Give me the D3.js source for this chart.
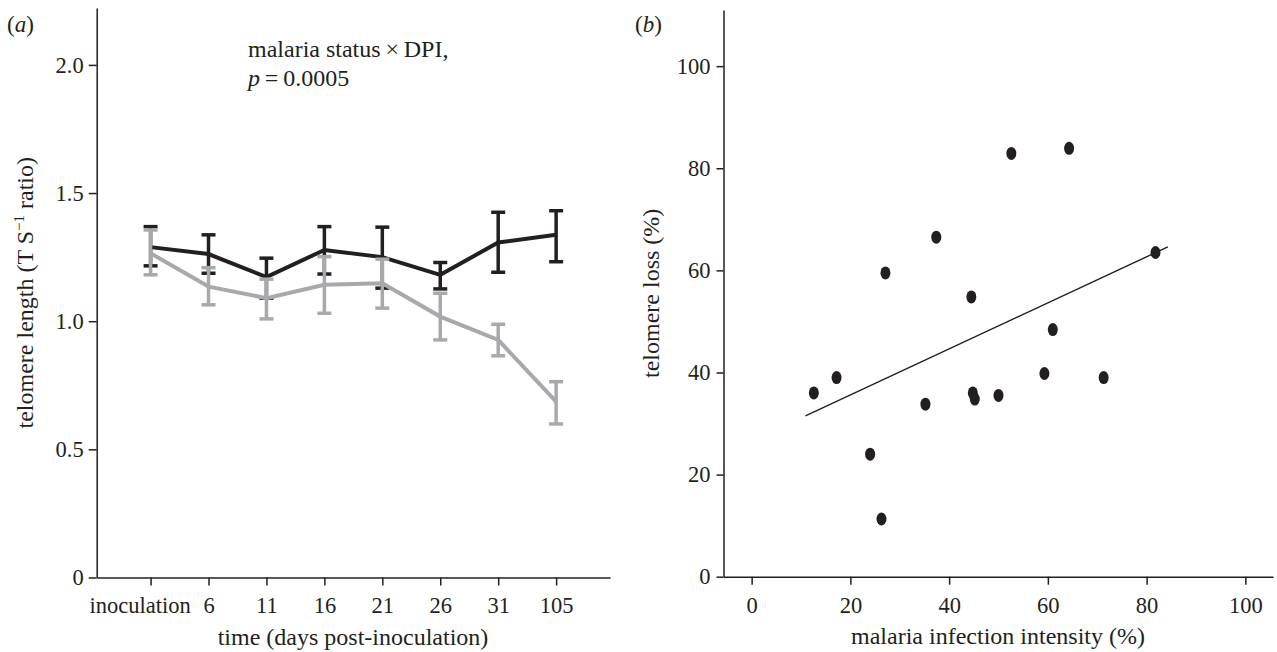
<!DOCTYPE html>
<html>
<head>
<meta charset="utf-8">
<script src="https://cdn.jsdelivr.net/npm/d3@7"></script>
<style>
  html, body { margin: 0; padding: 0; background: #fff; }
  svg { display: block; }
  svg text { font-family: "Liberation Serif", "Times New Roman", Times, "DejaVu Serif", serif; fill: #231f20; }
</style>
</head>
<body>
<svg id="chart" width="1277" height="652"></svg>
<script>
// ---- Data: panel (a) ----
const timeLabels = ["inoculation", "6", "11", "16", "21", "26", "31", "105"];
const controlMean  = [1.289, 1.262, 1.172, 1.278, 1.250, 1.181, 1.307, 1.337];
const controlUpper = [1.369, 1.337, 1.246, 1.369, 1.367, 1.229, 1.425, 1.431];
const controlLower = [1.216, 1.187, 1.090, 1.184, 1.129, 1.126, 1.191, 1.232];
const infectedMean  = [1.265, 1.135, 1.090, 1.142, 1.148, 1.018, 0.927, 0.686];
const infectedUpper = [1.356, 1.209, 1.164, 1.252, 1.242, 1.109, 0.988, 0.764];
const infectedLower = [1.181, 1.064, 1.009, 1.031, 1.051, 0.927, 0.865, 0.599];
const yTicksA = [0, 0.5, 1.0, 1.5, 2.0];

// ---- Data: panel (b) ----
const infectionIntensity = [52.6, 64.3, 37.4, 81.8, 27.1, 44.5, 61.0, 12.6, 17.2, 24.0, 26.3, 35.2, 44.8, 45.2, 50.0, 59.3, 71.3];
const telomereLoss       = [82.9, 83.9, 66.5, 63.5, 59.5, 54.8, 48.4, 36.0, 39.0, 24.0, 11.3, 33.8, 36.0, 34.8, 35.5, 39.8, 39.0];
const fitX = [10.9, 84.3];
const fitY = [31.5, 64.6];
const ticksB = [0, 20, 40, 60, 80, 100];

const INK = "#231f20";
const GREY = "#a7a9ac";
const FONT = '"Liberation Serif", "Times New Roman", Times, "DejaVu Serif", serif';
const TICK = 22.5, TITLE = 24;
const svg = d3.select("#chart");

function styleAxis(g) {
  g.selectAll("path.domain").attr("stroke", INK).attr("stroke-width", 1.5);
  g.selectAll(".tick line").attr("stroke", INK).attr("stroke-width", 1.5);
  g.selectAll(".tick text").attr("fill", INK)
    .attr("font-family", FONT).attr("font-size", TICK)
    .style("font-family", FONT).style("font-size", TICK + "px");
}
function txt(g, size) {
  return g.append("text").attr("font-family", FONT).style("font-family", FONT)
    .attr("font-size", size).style("font-size", size + "px").attr("fill", INK);
}

// ================= Panel (a) =================
const xA = d3.scalePoint().domain(timeLabels).range([96.7, 610]).padding(0.93);
const yA = d3.scaleLinear().domain([0, 2.222]).range([577.5, 8]);

const gA = svg.append("g");
const axXA = gA.append("g").attr("transform", `translate(0,${yA(0)})`)
  .call(d3.axisBottom(xA).tickSize(8).tickSizeOuter(0).tickPadding(12));
styleAxis(axXA);
axXA.selectAll(".tick text").attr("dx", (d, i) => i === 0 ? -11 : 0);

const axYA = gA.append("g").attr("transform", `translate(${xA.range()[0]},0)`)
  .call(d3.axisLeft(yA).tickValues(yTicksA).tickSize(8).tickSizeOuter(0).tickPadding(5)
    .tickFormat(d => d === 0 ? "0" : d3.format(".1f")(d)));
styleAxis(axYA);

function drawSeries(mean, upper, lower, color) {
  const pts = timeLabels.map((t, i) => ({ t, m: mean[i], u: upper[i], l: lower[i] }));
  gA.append("path").datum(pts)
    .attr("fill", "none").attr("stroke", color).attr("stroke-width", 4)
    .attr("stroke-linejoin", "miter")
    .attr("d", d3.line().x(d => xA(d.t)).y(d => yA(d.m)));
  const eb = gA.append("g").selectAll("g").data(pts).join("g");
  eb.append("line")
    .attr("x1", d => xA(d.t)).attr("x2", d => xA(d.t))
    .attr("y1", d => yA(d.u)).attr("y2", d => yA(d.l))
    .attr("stroke", color).attr("stroke-width", 3.5);
  eb.append("line")
    .attr("x1", d => xA(d.t) - 7).attr("x2", d => xA(d.t) + 7)
    .attr("y1", d => yA(d.u)).attr("y2", d => yA(d.u))
    .attr("stroke", color).attr("stroke-width", 3.5);
  eb.append("line")
    .attr("x1", d => xA(d.t) - 7).attr("x2", d => xA(d.t) + 7)
    .attr("y1", d => yA(d.l)).attr("y2", d => yA(d.l))
    .attr("stroke", color).attr("stroke-width", 3.5);
}
drawSeries(controlMean, controlUpper, controlLower, INK);
drawSeries(infectedMean, infectedUpper, infectedLower, GREY);

// labels (a)
const lblA = txt(gA, 23).attr("x", 7).attr("y", 32);
lblA.append("tspan").text("(");
lblA.append("tspan").attr("font-style", "italic").text("a");
lblA.append("tspan").text(")");

txt(gA, TITLE).attr("x", 248).attr("y", 57).text("malaria status\u2009\u00d7\u2009DPI,");
const pTxt = txt(gA, TITLE).attr("x", 248).attr("y", 86);
pTxt.append("tspan").attr("font-style", "italic").text("p");
pTxt.append("tspan").text("\u2009=\u20090.0005");

txt(gA, TITLE).attr("x", 353).attr("y", 645).attr("text-anchor", "middle")
  .text("time (days post-inoculation)");

const yTitleA = txt(gA, TITLE)
  .attr("transform", `translate(33,${(yA.range()[0] + yA.range()[1]) / 2}) rotate(-90)`)
  .attr("text-anchor", "middle");
yTitleA.append("tspan").text("telomere length (T S");
yTitleA.append("tspan").attr("dy", -9).attr("font-size", 15).style("font-size", "15px").text("\u22121");
yTitleA.append("tspan").attr("dy", 9).text(" ratio)");

// ================= Panel (b) =================
const xB = d3.scaleLinear().domain([-5.7, 105.6]).range([723.5, 1273]);
const yB = d3.scaleLinear().domain([0, 111]).range([576.7, 10]);
const gB = svg.append("g");

const axXB = gB.append("g").attr("transform", `translate(0,${yB(0)})`)
  .call(d3.axisBottom(xB).tickValues(ticksB).tickSize(8).tickSizeOuter(0).tickPadding(12)
    .tickFormat(d3.format("d")));
styleAxis(axXB);
const axYB = gB.append("g").attr("transform", `translate(${xB.range()[0]},0)`)
  .call(d3.axisLeft(yB).tickValues(ticksB).tickSize(7).tickSizeOuter(0).tickPadding(6)
    .tickFormat(d3.format("d")));
styleAxis(axYB);

gB.append("line")
  .attr("x1", xB(fitX[0])).attr("y1", yB(fitY[0]))
  .attr("x2", xB(fitX[1])).attr("y2", yB(fitY[1]))
  .attr("stroke", INK).attr("stroke-width", 1.4);

gB.append("g").selectAll("ellipse")
  .data(infectionIntensity.map((x, i) => ({ x, y: telomereLoss[i] })))
  .join("ellipse")
  .attr("cx", d => xB(d.x)).attr("cy", d => yB(d.y))
  .attr("rx", 5).attr("ry", 6.5).attr("fill", INK);

const lblB = txt(gB, 23).attr("x", 635).attr("y", 32);
lblB.append("tspan").text("(");
lblB.append("tspan").attr("font-style", "italic").text("b");
lblB.append("tspan").text(")");

txt(gB, TITLE).attr("x", 998).attr("y", 644).attr("text-anchor", "middle")
  .text("malaria infection intensity (%)");

txt(gB, TITLE)
  .attr("transform", `translate(659,${(yB.range()[0] + yB.range()[1]) / 2}) rotate(-90)`)
  .attr("text-anchor", "middle").text("telomere loss (%)");
</script>
</body>
</html>
